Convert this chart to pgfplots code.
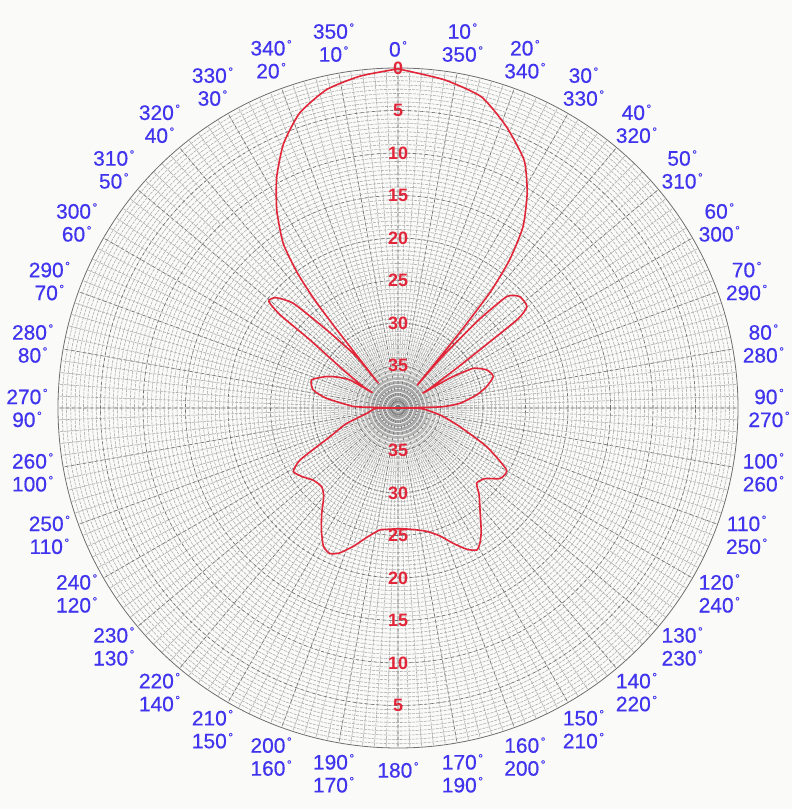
\documentclass[border=0pt]{standalone}
\usepackage{pgfplots}
\pgfplotsset{compat=1.18}
\usepgfplotslibrary{polar}
\usepackage{pgfplotstable}
\usepackage{fontspec}
\setmainfont{Liberation Sans}
\newfontfamily\lblfont[FakeBold=0.5]{Liberation Sans}
\definecolor{bgc}{RGB}{250,250,248}
\definecolor{lblue}{RGB}{64,52,238}
\definecolor{cred}{RGB}{226,38,58}
\definecolor{gmaj}{RGB}{110,110,110}
\definecolor{gmin}{RGB}{170,170,170}
\newcommand\dg{\hspace{1.5bp}\raisebox{7bp}{\fontsize{12}{12}\selectfont °}}

% t = angle clockwise from top (deg), db = attenuation (dB below max)
\pgfplotstableread{
t db
0 0.1
8 1.0
15 2.1
21 4.5
27 7.3
31 10.5
34.6 14.1
37 18.2
38.5 22.5
39.2 28
39.6 33
40.1 36.5
40.8 32
42.5 26
44.3 21.7
47.5 20.6
51.8 20.7
53.4 22.4
54.3 27
56 32
58.3 35.5
59.2 36.5
60 33
62.2 30
67 28.6
71.8 28.2
76.5 29.3
80.5 30.6
85.7 32.7
88.5 35
90 40
91 37.5
94 36.6
100 34.8
106.8 32.4
113.6 28.6
119.7 25.3
124.6 25.4
129 26.8
133.7 27.2
137 26
141.2 24.6
146 22.5
148.8 21.4
151 20.9
154 21.5
157.8 22.8
162 24.2
166.9 25.1
173 25.6
179 25.8
184 25.7
188.4 25.5
193 24.5
197.9 22.9
202 21.6
205.1 21.1
208.3 21.5
212 23
215.9 24.7
220 26.4
224.1 27.1
229.6 26.9
234 26.2
238.7 25.6
242.1 27
247.1 31.3
253 33.6
260.4 36.3
266 37
269 37.5
270 40
271.5 35.5
272 34.7
277.7 31.5
282 29.8
288 29.3
293.7 30.8
297 32
300.3 33.5
300.9 36.5
301.6 35.2
304.8 32.2
307.7 26.9
308.3 22.4
309.5 20.3
312 20.6
315 22.6
317.6 27.6
321 32.2
321.6 36
322 28
322.4 23.8
323.3 20.2
325.1 16.4
328.5 12.7
332.3 9.3
336.6 6.1
341.6 3.4
347.4 1.6
353.5 0.7
360 0.1
}\patdata

\begin{document}
\begin{tikzpicture}[x=1bp,y=1bp]
\useasboundingbox (0,0) rectangle (792,809);
\fill[bgc] (0,0) rectangle (792,809);
\begin{polaraxis}[
  at={(398bp,401bp)}, anchor=center,
  scale only axis, width=680bp, height=680bp,
  xmin=0, xmax=360, ymin=0, ymax=40,
  xtick={0,10,...,350}, minor xtick={0,2,...,358},
  ytick={5,10,...,35}, minor ytick={0.5,1,...,39.5},
  xticklabels={}, yticklabels={},
  major tick length=0pt, minor tick length=0pt,
  grid=both,
  major grid style={gmaj, dashed, line width=0.6bp},
  minor grid style={gmin, dash pattern=on 3bp off 1bp, line width=0.55bp},
  x axis line style={gmaj, line width=0.8bp},
  y axis line style={draw=none},
  clip=false,
]
\addplot[cred, line width=1.6bp, no markers, smooth, tension=0.35] table[x expr={90-\thisrow{t}}, y expr={40-\thisrow{db}}] {\patdata};
\end{polaraxis}
\foreach \k in {0,5,10,15,20,25,30,35}{
  \node[text=cred, font=\fontsize{18}{18}\selectfont\bfseries, inner sep=1bp] at (398, {401+(40-\k)*8.5}) {\k};
}
\foreach \k in {5,10,15,20,25,30,35}{
  \node[text=cred, font=\fontsize{18}{18}\selectfont\bfseries, inner sep=1bp] at (398, {401-(40-\k)*8.5}) {\k};
}
\foreach \t in {10,20,30,40,50,60,70,80,90,100,110,120,130,140,150,160,170,190,200,210,220,230,240,250,260,270,280,290,300,310,320,330,340,350}{
  \pgfmathtruncatemacro\u{360-\t}
  \node[shift={(398,401)}, text=lblue, align=center, font=\lblfont\fontsize{21}{23}\selectfont, inner sep=0pt] at ({90-\t}:371) {\t\dg\\\u\dg};
}
\node[shift={(398,401)}, text=lblue, font=\lblfont\fontsize{21}{23}\selectfont, inner sep=0pt] at (90:359) {0\dg};
\node[shift={(398,401)}, text=lblue, font=\lblfont\fontsize{21}{23}\selectfont, inner sep=0pt] at (-90:362) {180\dg};
\end{tikzpicture}
\end{document}
